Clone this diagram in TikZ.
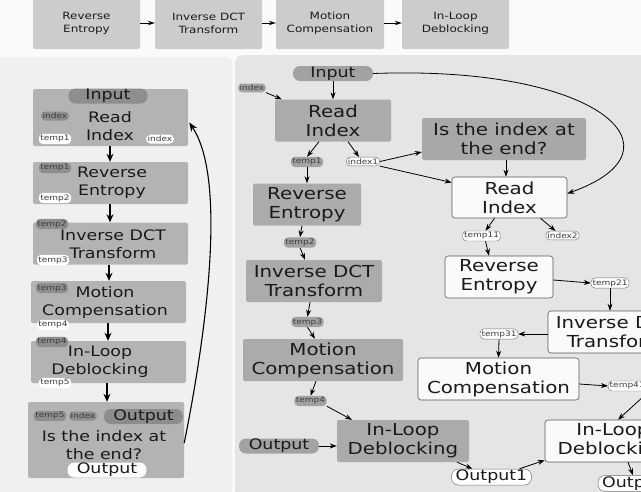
\documentclass[tikz,border=0pt]{standalone}
\usepackage{fontspec}
\setmainfont{DejaVu Sans}
\newfontfamily\dv[FakeStretch=1.2]{DejaVu Sans}
\usetikzlibrary{arrows.meta,calc}
\newcommand\myfs[2]{\fontsize{#1}{#2}\selectfont}
\definecolor{topbg}{HTML}{FAFAFA}
\definecolor{leftbg}{HTML}{F0F0F0}
\definecolor{rightbg}{HTML}{E5E5E5}
\definecolor{topbox}{HTML}{CCCCCC}
\definecolor{lbox}{HTML}{B3B3B3}
\definecolor{ltag}{HTML}{8E8E8E}
\definecolor{rbox}{HTML}{ABABAB}
\definecolor{rtag}{HTML}{A2A2A2}
\definecolor{wbox}{HTML}{FAFAFA}
\definecolor{ink}{HTML}{1A1A1A}
\tikzset{
  tbox/.style={fill=topbox, rounded corners=2pt, minimum width=107pt, minimum height=52pt, inner sep=0pt, align=center, text=ink, font=\dv\myfs{10}{13}},
  lboxs/.style={fill=lbox, rounded corners=2pt, minimum width=155pt, inner sep=0pt},
  ltext/.style={align=center, text=ink, inner sep=0pt, font=\dv\myfs{14.5}{18}},
  ltagd/.style={fill=ltag, rounded corners=4pt, minimum height=9pt, inner sep=1.5pt, text=ink!85, font=\dv\myfs{7.5}{8}},
  ltagw/.style={fill=white, rounded corners=4pt, minimum height=9pt, inner sep=1.5pt, text=ink!85, font=\dv\myfs{7.5}{8}},
  bigpill/.style={rounded corners=7pt, minimum width=79pt, minimum height=15pt, inner sep=0pt, text=ink, font=\dv\myfs{14.5}{15}},
  rg/.style={fill=rbox, rounded corners=2pt, minimum height=42pt, inner sep=0pt, align=center, text=ink, font=\dv\myfs{16.5}{19}},
  rw/.style={fill=wbox, draw=black!65, line width=0.6pt, rounded corners=3pt, minimum height=42pt, inner sep=0pt, align=center, text=ink, font=\dv\myfs{16.5}{19}},
  rtagd/.style={fill=rtag, rounded corners=4pt, minimum height=8.5pt, inner sep=1.5pt, text=ink!85, font=\dv\myfs{7.5}{8}},
  rtagw/.style={fill=white, draw=black!55, line width=0.4pt, rounded corners=4pt, minimum height=8.5pt, inner sep=1.5pt, text=ink!85, font=\dv\myfs{7.5}{8}},
  tarr/.style={line width=1pt, -{Stealth[length=7pt,width=4.5pt]}},
  larr/.style={line width=1.3pt, -{Stealth[length=8pt,width=7pt]}},
  rarr/.style={line width=0.8pt, -{Stealth[length=7pt,width=5pt]}}
}
\begin{document}
\begin{tikzpicture}[x=1pt,y=-1pt]
\useasboundingbox (0,0) rectangle (641,491);
\clip (0,0) rectangle (641,491);
\fill[topbg] (0,0) rectangle (641,491);
\fill[leftbg, rounded corners=6pt] (-10,57) rectangle (232,500);
\fill[rightbg, rounded corners=8pt] (235,55) rectangle (660,500);

% ---------- top strip ----------
\node[tbox] (T1) at (86.5,23) {Reverse\\Entropy};
\node[tbox] (T2) at (208.5,23) {Inverse DCT\\Transform};
\node[tbox, minimum width=108pt] (T3) at (330,23) {Motion\\Compensation};
\node[tbox] (T4) at (455.5,23) {In-Loop\\Deblocking};
\draw[tarr] (T1) -- (T2);
\draw[tarr] (T2) -- (T3);
\draw[tarr] (T3) -- (T4);

% ---------- left panel ----------
\node[lboxs, minimum height=57pt] (LRI) at (110.5,117.5) {};
\node[bigpill, fill=ltag] (LIn) at (108,96) {Input};
\node[ltext] (LRIt) at (110,126) {Read\\Index};
\node[ltagd] (LRIa) at (55,116) {index};
\node[ltagw] (LRIb) at (55,139) {temp1};
\node[ltagw] (LRIc) at (160,139) {index};

\node[lboxs, minimum height=42pt] (LRE) at (110.5,183) {};
\node[ltext] (LREt) at (112,183) {Reverse\\Entropy};
\node[ltagd] (LREa) at (55,168) {temp1};
\node[ltagw] (LREb) at (55,198) {temp2};

\node[lboxs, minimum height=42pt] (LDCT) at (110.5,243.5) {};
\node[ltext] (LDCTt) at (113,244) {Inverse DCT\\Transform};
\node[ltagd] (LDCTa) at (52,224) {temp2};
\node[ltagw] (LDCTb) at (53,260) {temp3};

\node[lboxs, minimum height=42pt] (LMC) at (108.5,302) {};
\node[ltext] (LMCt) at (105,302) {Motion\\Compensation};
\node[ltagd] (LMCa) at (52,288) {temp3};
\node[ltagw] (LMCb) at (53,325) {temp4};

\node[lboxs, minimum height=42pt] (LIL) at (108.5,362) {};
\node[ltext] (LILt) at (100,362) {In-Loop\\Deblocking};
\node[ltagd] (LILa) at (52,342) {temp4};
\node[ltagw] (LILb) at (55,383) {temp5};

\node[lboxs, minimum width=156pt, minimum height=76pt] (LEND) at (106,440) {};
\node[ltext] (LENDt) at (104,445) {Is the index at\\the end?};
\node[ltagd] (LENDa) at (50,416) {temp5};
\node[ltagd] (LENDb) at (83,416) {index};
\node[bigpill, fill=black!45] (LENDc) at (143.5,416.5) {Output};
\node[bigpill, fill=white] (LENDd) at (107,470) {Output};

\draw[larr] (LRI.south -| 110,0) -- (LRE.north -| 110,0);
\draw[larr] (LRE.south -| 110,0) -- (LDCT.north -| 110,0);
\draw[larr] (LDCT.south -| 109,0) -- (LMC.north -| 109,0);
\draw[larr] (LMC.south -| 108,0) -- (LIL.north -| 108,0);
\draw[larr] (LIL.south -| 107,0) -- (LEND.north -| 107,0);
\coordinate (LoopS) at (LEND.east |- 0,443);
\coordinate (LoopE) at ($(LRI.east)+(1,5)$);
\draw[line width=1.1pt, -{Stealth[length=9pt,width=7pt]}] (LoopS) .. controls (205,340) and (228,180) .. (LoopE);

% ---------- right panel : gray column ----------
\node[bigpill, fill=rtag, minimum width=80pt] (RIn) at (333,73.5) {Input};
\node[rtagd] (Rindex) at (252,88) {index};
\node[rg, minimum width=116pt] (RRI) at (333,120.5) {Read\\Index};
\node[rtagd] (Rt1) at (307,162) {temp1};
\node[rtagw] (Ri1) at (363,161.5) {index1};
\node[rg, minimum width=108pt] (RREg) at (307,204.5) {Reverse\\Entropy};
\node[rtagd] (Rt2) at (300,242.5) {temp2};
\node[rg, minimum width=136pt] (RDCTg) at (314,281) {Inverse DCT\\Transform};
\node[rtagd] (Rt3) at (307.5,322) {temp3};
\node[rg, minimum width=160pt] (RMCg) at (323,360) {Motion\\Compensation};
\node[rtagd] (Rt4) at (310.5,401) {temp4};
\node[rg, minimum width=132pt] (RILg) at (403,441) {In-Loop\\Deblocking};
\node[bigpill, fill=rtag, minimum width=80pt] (ROut) at (279,446) {Output};

% ---------- right panel : white column ----------
\node[rg, fill=black!34, minimum width=164pt] (RIS) at (504,139) {Is the index at\\the end?};
\node[rw, minimum width=115pt, minimum height=41pt] (RRI2) at (509.5,197.5) {Read\\Index};
\node[rtagw] (Rt11) at (481.5,236) {temp11};
\node[rtagw] (Ri2) at (562.5,235.5) {index2};
\node[rw, minimum width=108pt] (RRE2) at (499,277) {Reverse\\Entropy};
\node[rtagw] (Rt21) at (610,283) {temp21};
\node[rw, minimum width=136pt] (RDCT2) at (616,332) {Inverse DCT\\Transform};
\node[rtagw] (Rt31) at (499,334) {temp31};
\node[rw, minimum width=161pt] (RMC2) at (498.5,379) {Motion\\Compensation};
\node[rtagw, anchor=west] (Rt41) at (608,386) {temp41};
\node[rw, minimum width=136pt] (RIL2) at (613,441) {In-Loop\\Deblocking};
\node[bigpill, fill=white, draw=black!55, line width=0.5pt, minimum width=80pt, minimum height=16pt] (ROut1) at (491.5,477) {Output1};
\node[bigpill, fill=white, draw=black!55, line width=0.5pt, minimum width=80pt, minimum height=16pt] (ROut2) at (638,483.5) {Output2};

% ---------- right panel arrows ----------
\draw[rarr] (RIn.south) -- (RRI.north);
\draw[rarr] (Rindex.south east) -- ([xshift=7pt]RRI.north west);
\draw[rarr] ([xshift=-14pt]RRI.south) -- (Rt1.north);
\draw[rarr] ([xshift=15pt]RRI.south) -- ([xshift=-4pt]Ri1.north);
\draw[rarr] (Rt1.south) -- (RREg.north);
\draw[rarr] ([xshift=-5pt]RREg.south) -- (Rt2.north);
\draw[rarr] (Rt2.south) -- ([xshift=-9pt]RDCTg.north);
\draw[rarr] ([xshift=-4pt]RDCTg.south) -- (Rt3.north);
\draw[rarr] (Rt3.south) -- ([xshift=-8pt]RMCg.north);
\draw[rarr] ([xshift=-7pt]RMCg.south) -- (Rt4.north);
\draw[rarr] (Rt4.south east) -- ([xshift=-51pt]RILg.north);
\draw[rarr] (ROut.east) -- (ROut.east -| RILg.west);

\draw[rarr] (Ri1.east) -- ([yshift=-13pt]RIS.west);
\draw[rarr] (Ri1.south east) -- ([yshift=15pt]RRI2.west);
\draw[rarr] (RIn.east) .. controls (600,65) and (690,150) .. ([yshift=4pt]RRI2.east);
\draw[rarr] ([xshift=2pt]RIS.south) -- ([xshift=2pt]RIS.south |- RRI2.north);
\draw[rarr] ([xshift=-15pt]RRI2.south) -- ([xshift=4pt]Rt11.north);
\draw[rarr] ([xshift=31pt]RRI2.south) -- ([xshift=-7pt]Ri2.north);
\draw[rarr] ([xshift=4pt]Rt11.south) -- ([xshift=-10pt]RRE2.north);
\draw[rarr] ([yshift=-3pt]RRE2.east) -- (Rt21.west);
\draw[rarr] (Rt21.south) -- (Rt21.south |- RDCT2.north);
\draw[rarr] (RDCT2.west |- Rt31) -- (Rt31.east);
\draw[rarr] (Rt31.south) -- (RMC2.north);
\draw[rarr] ([yshift=-5pt]RMC2.east) -- (Rt41.west);
\draw[rarr] ([xshift=22pt]Rt41.south) -- ([xshift=5pt]RIL2.north);
\draw[rarr] ([xshift=15pt]RIL2.south) -- ([xshift=-5pt]ROut2.north);
\draw[rarr] ([xshift=54pt]RILg.south) -- ([xshift=-19pt]ROut1.north);
\draw[rarr] ([xshift=28pt]ROut1.north) -- ([yshift=2pt]RIL2.south west);
\end{tikzpicture}
\end{document}
